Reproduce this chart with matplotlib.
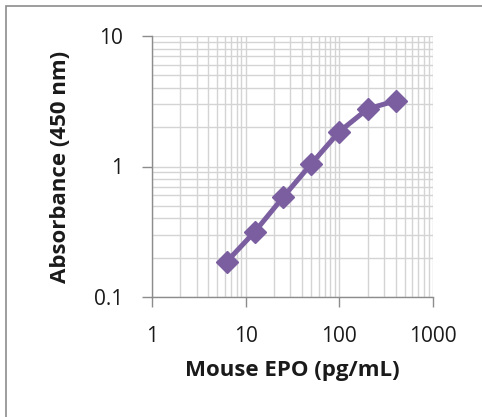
import numpy as np
import matplotlib
matplotlib.use("Agg")
import matplotlib.pyplot as plt
from matplotlib.ticker import LogLocator, FixedLocator, NullFormatter
from matplotlib.patches import Rectangle

# standard curve values
epo = [6.25, 12.5, 25, 50, 100, 200, 400]
absorb = [0.186, 0.316, 0.58, 1.045, 1.85, 2.76, 3.19]
xticks = [1, 10, 100, 1000]
xlabels = ['1', '10', '100', '1000']
yticks = [0.1, 1, 10]
ylabels = ['0.1', '1', '10']

plt.rcParams['font.family'] = ['Open Sans', 'DejaVu Sans']

fig = plt.figure(figsize=(4.82, 4.17), dpi=100)
W, H = 482, 417
ax = fig.add_axes([152 / W, 1 - 297 / H, (433 - 152) / W, (297 - 36) / H])

# outer frame like the excel chart area
fig.patches.append(Rectangle((6 / W, -0.05), 1.1, 1 - 6 / H + 0.05,
                             transform=fig.transFigure, fill=False,
                             edgecolor='#8c8c8c', lw=1.2))

ax.set_xscale('log')
ax.set_yscale('log')
ax.set_xlim(1, 1000)
ax.set_ylim(0.1, 10)

ax.plot(epo, absorb, color='#7b5ea0', lw=3.6, marker='D', ms=11.5,
        markeredgecolor='#7b5ea0', zorder=3)

ax.xaxis.set_major_locator(FixedLocator(xticks))
ax.set_xticklabels(xlabels)
ax.yaxis.set_major_locator(FixedLocator(yticks))
ax.set_yticklabels(ylabels)
ax.xaxis.set_minor_locator(LogLocator(base=10, subs=np.arange(2, 10)))
ax.yaxis.set_minor_locator(LogLocator(base=10, subs=np.arange(2, 10)))
ax.xaxis.set_minor_formatter(NullFormatter())
ax.yaxis.set_minor_formatter(NullFormatter())

ax.grid(True, which='both', color='#d4d4d4', lw=1.0)
ax.set_axisbelow(True)
for s in ['top', 'right']:
    ax.spines[s].set_visible(False)
for s in ['left', 'bottom']:
    ax.spines[s].set_color('#8c8c8c')
    ax.spines[s].set_linewidth(1.0)

ax.tick_params(which='major', length=7, width=1, color='#8c8c8c',
               labelsize=15, labelcolor='#1a1a1a')
ax.tick_params(axis='y', pad=14)
ax.tick_params(axis='x', pad=14)
ax.tick_params(which='minor', length=0)

ax.set_xlabel('Mouse EPO (pg/mL)', fontsize=16, fontweight='bold',
              color='#1a1a1a', labelpad=9)
ax.set_ylabel('Absorbance (450 nm)', fontsize=16, fontweight='bold',
              color='#1a1a1a', labelpad=16)

fig.savefig('out.png', dpi=100)
